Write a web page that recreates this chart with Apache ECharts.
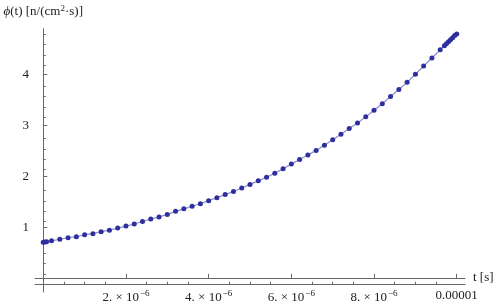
<!DOCTYPE html>
<html>
<head>
<meta charset="utf-8">
<script src="https://cdn.jsdelivr.net/npm/echarts@6/dist/echarts.min.js"></script>
<style>
  html, body { margin: 0; padding: 0; background: #fff; }
  #chart { width: 498px; height: 304px; }
</style>
</head>
<body>
<div id="chart"></div>
<script>
// time in microseconds (axis shows seconds), flux values
var tMicro = [0, 0.04, 0.08, 0.2, 0.4, 0.6, 0.8, 1.0, 1.2, 1.4, 1.6, 1.8, 2.0, 2.2, 2.4, 2.6, 2.8,
    3.0, 3.2, 3.4, 3.6, 3.8, 4.0, 4.2, 4.4, 4.6, 4.8, 5.0, 5.2, 5.4, 5.6, 5.8, 6.0, 6.2, 6.4,
    6.6, 6.8, 7.0, 7.2, 7.4, 7.6, 7.8, 8.0, 8.2, 8.4, 8.6, 8.8, 9.0, 9.2, 9.4, 9.6, 9.7, 9.75,
    9.8, 9.85, 9.9, 9.95, 10.0];
var phi = [0.70, 0.705, 0.71, 0.73, 0.76, 0.79, 0.81, 0.85, 0.87, 0.91, 0.94, 0.98, 1.02, 1.06,
    1.11, 1.16, 1.20, 1.25, 1.31, 1.36, 1.41, 1.46, 1.52, 1.58, 1.64, 1.70, 1.77, 1.84, 1.91,
    1.98, 2.06, 2.15, 2.24, 2.33, 2.42, 2.51, 2.61, 2.72, 2.83, 2.94, 3.05, 3.17, 3.30, 3.43,
    3.57, 3.71, 3.85, 4.01, 4.17, 4.33, 4.49, 4.57, 4.61, 4.65, 4.69, 4.73, 4.77, 4.80];

var xTicks = [2, 4, 6, 8, 10];
var xTickLabels = ['{m|2. × 10}{s|−6}', '{m|4. × 10}{s|−6}', '{m|6. × 10}{s|−6}', '{m|8. × 10}{s|−6}', '{m|0.00001}'];
var xMinorTicks = [0.5, 1, 1.5, 2.5, 3, 3.5, 4.5, 5, 5.5, 6.5, 7, 7.5, 8.5, 9, 9.5];
var yTicks = [1, 2, 3, 4];
var yMinorTicks = [0.2, 0.4, 0.6, 0.8, 1.2, 1.4, 1.6, 1.8, 2.2, 2.4, 2.6, 2.8,
    3.2, 3.4, 3.6, 3.8, 4.2, 4.4, 4.6, 4.8];

var serif = '"Liberation Serif", "DejaVu Serif", serif';
var axisColor = '#666';
var textColor = '#222';
var xMin = -0.2, xMax = 10.2, yMin = -0.15, yMax = 4.9;

var points = [];
for (var i = 0; i < tMicro.length; i++) {
    points.push([tMicro[i], phi[i]]);
}

var gridBox = {left: 35, right: 33, top: 29, bottom: 12};

var option = {
    animation: false,
    grid: [
        Object.assign({}, gridBox),
        Object.assign({}, gridBox)
    ],
    xAxis: [{
        type: 'value', gridIndex: 0, min: xMin, max: xMax,
        name: 't [s]', nameLocation: 'end', nameGap: 8,
        nameTextStyle: {fontFamily: serif, fontSize: 13, color: textColor, verticalAlign: 'middle'},
        axisLine: {onZero: true, lineStyle: {color: axisColor, width: 1}},
        axisTick: {show: true, inside: true, length: 4, customValues: xTicks, lineStyle: {color: axisColor}},
        axisLabel: {
            customValues: xTicks, margin: 4, color: textColor,
            formatter: function (v) {
                var k = xTicks.indexOf(v);
                return k >= 0 ? xTickLabels[k] : '';
            },
            rich: {
                m: {fontFamily: serif, fontSize: 13, color: textColor},
                s: {fontFamily: serif, fontSize: 9, color: textColor, verticalAlign: 'top', padding: [0, 0, 7, 1]}
            }
        },
        splitLine: {show: false}
    }, {
        type: 'value', gridIndex: 1, min: xMin, max: xMax,
        axisLine: {onZero: true, lineStyle: {color: axisColor, width: 1}},
        axisTick: {show: true, inside: true, length: 2.5, customValues: xMinorTicks, lineStyle: {color: axisColor}},
        axisLabel: {show: false},
        splitLine: {show: false}
    }],
    yAxis: [{
        type: 'value', gridIndex: 0, min: yMin, max: yMax,
        name: '{i|ϕ}(t) [n/(cm{s|2}·s)]', nameLocation: 'end', nameGap: 9,
        nameTextStyle: {
            fontFamily: serif, fontSize: 13, color: textColor, align: 'center',
            rich: {
                i: {fontFamily: serif, fontSize: 13, fontStyle: 'italic', color: textColor},
                s: {fontFamily: serif, fontSize: 9, color: textColor, verticalAlign: 'top', padding: [0, 0, 7, 0]}
            }
        },
        axisLine: {onZero: true, lineStyle: {color: axisColor, width: 1}},
        axisTick: {show: true, inside: true, length: 4, customValues: yTicks, lineStyle: {color: axisColor}},
        axisLabel: {customValues: yTicks, margin: 6, fontFamily: serif, fontSize: 13, color: textColor},
        splitLine: {show: false}
    }, {
        type: 'value', gridIndex: 1, min: yMin, max: yMax,
        axisLine: {onZero: true, lineStyle: {color: axisColor, width: 1}},
        axisTick: {show: true, inside: true, length: 2.5, customValues: yMinorTicks, lineStyle: {color: axisColor}},
        axisLabel: {show: false},
        splitLine: {show: false}
    }],
    series: [{
        type: 'line',
        xAxisIndex: 0, yAxisIndex: 0,
        data: points,
        symbol: 'circle',
        symbolSize: 5,
        showSymbol: true,
        lineStyle: {color: '#8a8ad0', width: 1.2},
        itemStyle: {color: '#2e2e9e', borderWidth: 0}
    }]
};

echarts.init(document.getElementById('chart')).setOption(option);
</script>
</body>
</html>
